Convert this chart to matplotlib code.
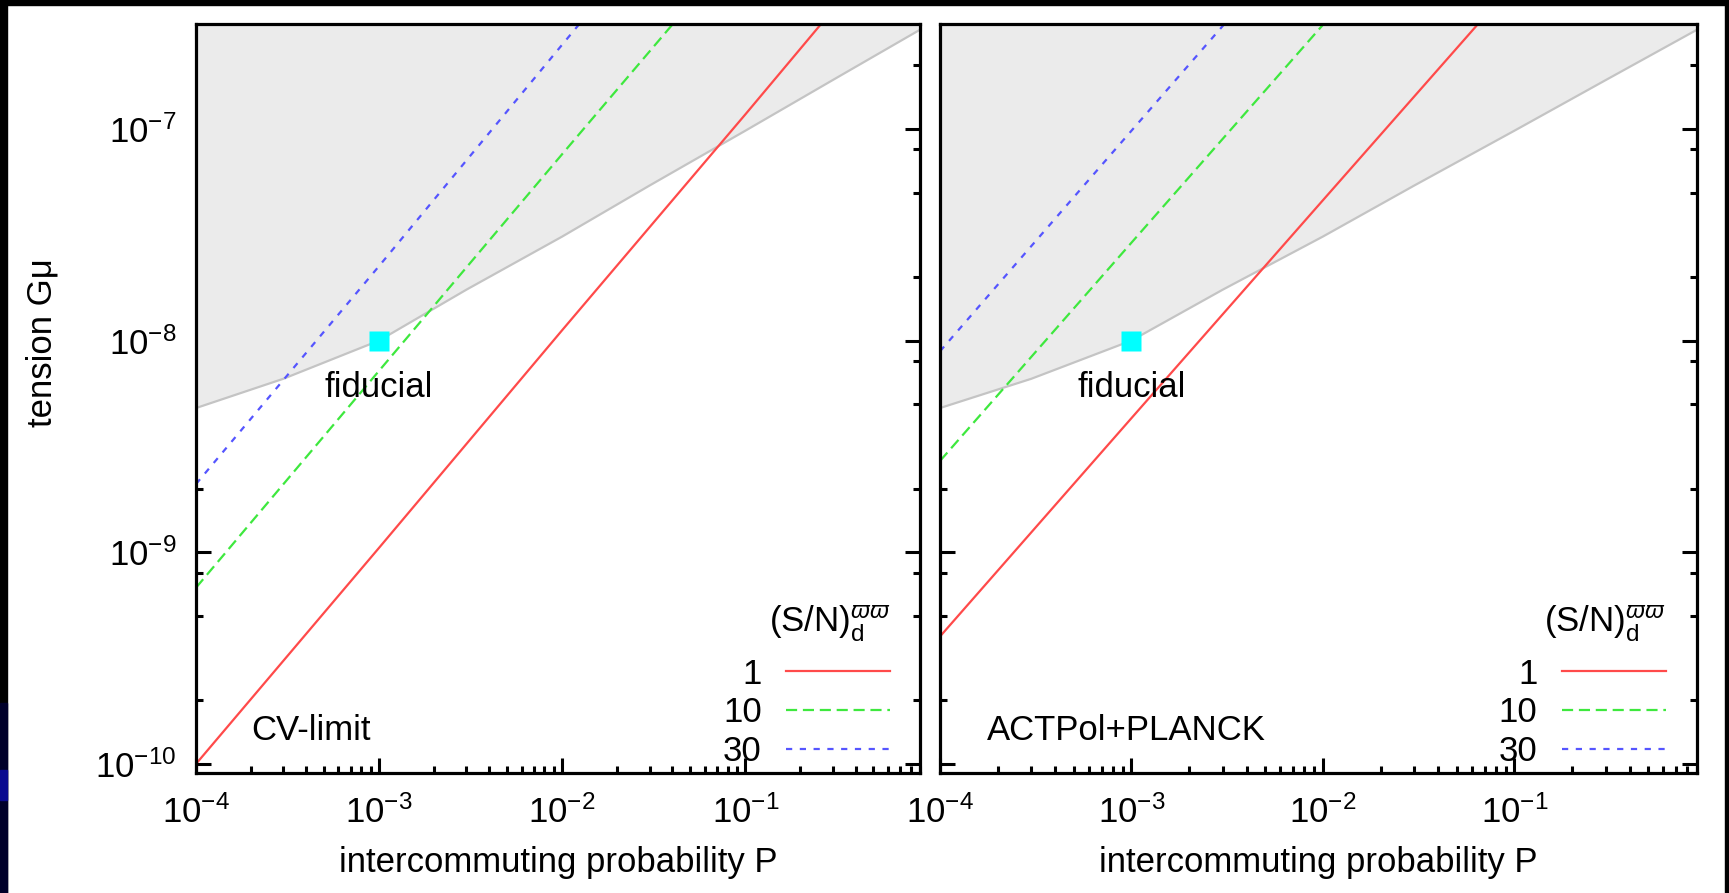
import numpy as np
import matplotlib.pyplot as plt
from matplotlib.patches import Rectangle
from matplotlib.ticker import LogLocator, NullFormatter

plt.rcParams['font.family'] = ['Liberation Sans', 'DejaVu Sans']
plt.rcParams['mathtext.fontset'] = 'custom'
plt.rcParams['mathtext.rm'] = 'Liberation Sans'
plt.rcParams['mathtext.it'] = 'Liberation Sans:italic'
plt.rcParams['mathtext.fallback'] = 'cm'
plt.rcParams['axes.unicode_minus'] = False

# intercommuting probability where values were read
P = [1e-4, 1e-3, 1e-2, 1e-1, 1.0]

# CV-limit panel, tension G mu for (S/N) = 1, 10, 30
cv_sn1 = [1.0e-10, 1.05e-9, 1.12e-8, 1.17e-7, 1.26e-6]
cv_sn10 = [6.8e-10, 7.2e-9, 7.6e-8, 7.9e-7, 8.3e-6]
cv_sn30 = [2.1e-9, 2.25e-8, 2.5e-7, 2.75e-6, 3.0e-5]

# ACTPol+PLANCK panel
act_sn1 = [4.0e-10, 4.3e-9, 4.6e-8, 4.9e-7, 5.2e-6]
act_sn10 = [2.7e-9, 2.9e-8, 3.1e-7, 3.35e-6, 3.6e-5]
act_sn30 = [8.9e-9, 9.8e-8, 1.07e-6, 1.15e-5, 1.26e-4]

# excluded region boundary (gray)
P_bound = [1e-4, 3e-4, 1e-3, 3e-3, 1e-2, 3e-2, 1e-1, 3e-1, 1.0]
G_bound = [4.8e-9, 6.6e-9, 1.0e-8, 1.74e-8, 3.1e-8, 5.4e-8, 9.8e-8, 1.7e-7, 3.1e-7]

fid_P, fid_G = 1e-3, 1e-8
sn_labels = ['1', '10', '30']
panel_names = ['CV-limit', 'ACTPol+PLANCK']

W, H = 1729, 893
fig = plt.figure(figsize=(W / 100, H / 100), dpi=100)
fig.patch.set_facecolor('white')
# black slide border
fig.patches.append(Rectangle((0, 0), 7 / W, 1, transform=fig.transFigure, color='black', zorder=0))
fig.patches.append(Rectangle((0, 1 - 5 / H), 1, 5 / H, transform=fig.transFigure, color='black', zorder=0))
fig.patches.append(Rectangle((1725 / W, 0), 4 / W, 1, transform=fig.transFigure, color='black', zorder=0))
fig.patches.append(Rectangle((0, 0), 7 / W, 190 / H, transform=fig.transFigure, color='#00002a', zorder=0))
fig.patches.append(Rectangle((0, 93 / H), 7 / W, 30 / H, transform=fig.transFigure, color='#0a0a90', zorder=0))

ax1 = fig.add_axes([196 / W, 1 - 773 / H, 724 / W, 749 / H])
ax2 = fig.add_axes([940 / W, 1 - 773 / H, 757 / W, 749 / H])

fs = 25
red, green, blue = '#ff4a4a', '#3ee83e', '#5555ff'

datasets = [(cv_sn1, cv_sn10, cv_sn30), (act_sn1, act_sn10, act_sn30)]

for i, (ax, (s1, s10, s30)) in enumerate(zip([ax1, ax2], datasets)):
    ax.set_xscale('log')
    ax.set_yscale('log')
    ax.set_xlim(1e-4, 0.9)
    ax.set_ylim(9.06e-11, 3.13e-7)
    ax.set_axisbelow(True)

    ax.fill_between(P_bound, G_bound, 1e-3, color='#ebebeb', lw=0, zorder=1)
    ax.plot(P_bound, G_bound, color='#c4c4c4', lw=1.6, zorder=1.5)

    ax.plot(P, s1, color=red, lw=1.6, label=sn_labels[0], zorder=2)
    ax.plot(P, s10, color=green, lw=1.6, dashes=(5, 2.6), label=sn_labels[1], zorder=2)
    ax.plot(P, s30, color=blue, lw=1.6, dashes=(2.8, 3.4), label=sn_labels[2], zorder=2)

    ax.plot([fid_P], [fid_G], 's', color='#00ffff', ms=14.5, mec='none', zorder=4)
    ax.text(fid_P, 6.0e-9, 'fiducial', fontsize=fs, ha='center', va='center', zorder=4)
    ax.text(0.077 if i == 0 else 0.062, 0.057, panel_names[i], transform=ax.transAxes,
            fontsize=fs, ha='left', va='center')

    ax.legend(loc='lower right', bbox_to_anchor=(0.959, 0.007), frameon=False,
              markerfirst=False, fontsize=fs, handlelength=3.0,
              handletextpad=0.7, labelspacing=0.16, borderpad=0, borderaxespad=0)
    ax.text(0.959, 0.188, r'(S/N)$_{\rm d}^{\varpi\varpi}$', transform=ax.transAxes,
            fontsize=fs, ha='right', va='baseline')

    for sp in ax.spines.values():
        sp.set_linewidth(2.3)
        sp.set_zorder(5)

    ax.xaxis.set_major_locator(LogLocator(base=10, numticks=10))
    ax.xaxis.set_minor_locator(LogLocator(base=10, subs=np.arange(2, 10), numticks=20))
    ax.yaxis.set_major_locator(LogLocator(base=10, numticks=10))
    ax.yaxis.set_minor_locator(LogLocator(base=10, subs=(2, 5, 8), numticks=20))
    ax.xaxis.set_minor_formatter(NullFormatter())
    ax.yaxis.set_minor_formatter(NullFormatter())
    ax.tick_params(which='both', direction='in', top=True, right=True, width=2.2,
                   labelsize=fs)
    ax.tick_params(which='major', length=11)
    ax.tick_params(which='minor', length=5)
    ax.tick_params(axis='x', pad=16)
    ax.tick_params(axis='y', pad=14)

    ax.set_xlabel('intercommuting probability P', fontsize=fs)
    ax.xaxis.set_label_coords(0.5, -0.097)

ax2.tick_params(axis='y', labelleft=False)
ax1.set_ylabel('tension G\u03bc', fontsize=fs)
ax1.yaxis.set_label_coords(-0.19, 0.575)

fig.savefig('out.png', dpi=100, facecolor=fig.get_facecolor())
